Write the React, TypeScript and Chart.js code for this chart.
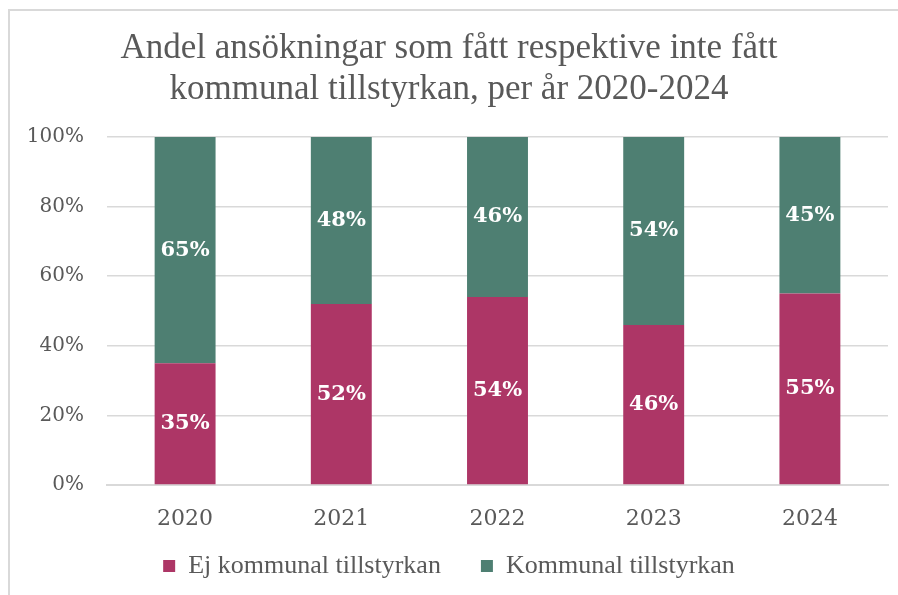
import React, { useEffect, useRef } from "react";
import { Chart, registerables } from "chart.js";

Chart.register(...registerables);

const titleLines = [
  "Andel ansökningar som fått respektive inte fått",
  "kommunal tillstyrkan, per år 2020-2024",
];
const years = ["2020", "2021", "2022", "2023", "2024"];
const ejKommunal = [35, 52, 54, 46, 55];
const kommunal = [65, 48, 46, 54, 45];
const seriesNames = ["Ej kommunal tillstyrkan", "Kommunal tillstyrkan"];
const yTicks = [0, 20, 40, 60, 80, 100];

const PINK = "#AD3666";
const GREEN = "#4E7F72";
const TEXT = "#595959";
const GRID = "#D9D9D9";

const frame = {
  id: "frame",
  beforeDraw(chart: any) {
    const ctx = chart.ctx;
    ctx.save();
    ctx.fillStyle = "#ffffff";
    ctx.fillRect(0, 0, chart.width, chart.height);
    ctx.strokeStyle = GRID;
    ctx.lineWidth = 2;
    ctx.beginPath();
    ctx.moveTo(9, chart.height);
    ctx.lineTo(9, 10);
    ctx.lineTo(chart.width, 10);
    ctx.stroke();
    ctx.restore();
  },
};

// keep the legend box compact in the layout, then place it where the reference has it
const legendFit = {
  id: "legendFit",
  beforeLayout(chart: any) {
    const lg = chart.legend;
    if (lg && !lg.__patched) {
      const orig = lg.fit.bind(lg);
      lg.fit = function () {
        orig();
        this.height = 55;
      };
      lg.__patched = true;
    }
  },
  afterLayout(chart: any) {
    const lg = chart.legend;
    if (lg) {
      lg.top = 513;
      lg.bottom = chart.height;
      lg.height = chart.height - 513;
    }
  },
};

const valueLabels = {
  id: "valueLabels",
  afterDatasetsDraw(chart: any) {
    const ctx = chart.ctx;
    ctx.save();
    ctx.fillStyle = "#ffffff";
    ctx.font = "bold 21px 'DejaVu Serif'";
    ctx.textAlign = "center";
    ctx.textBaseline = "middle";
    chart.data.datasets.forEach((ds: any, i: number) => {
      const meta = chart.getDatasetMeta(i);
      meta.data.forEach((el: any, j: number) => {
        const v = ds.data[j];
        const y = (el.y + el.base) / 2;
        ctx.fillText(v + "%", el.x, y);
      });
    });
    ctx.restore();
  },
};

export default function App() {
  const ref = useRef<HTMLCanvasElement | null>(null);
  useEffect(() => {
    if (!ref.current) return;
    const chart = new Chart(ref.current, {
      type: "bar",
      data: {
        labels: years,
        datasets: [
          {
            label: seriesNames[0],
            data: ejKommunal,
            backgroundColor: PINK,
            borderWidth: 0,
            barPercentage: 0.39,
            categoryPercentage: 1,
          },
          {
            label: seriesNames[1],
            data: kommunal,
            backgroundColor: GREEN,
            borderWidth: 0,
            barPercentage: 0.39,
            categoryPercentage: 1,
          },
        ],
      },
      options: {
        animation: false,
        responsive: false,
        maintainAspectRatio: false,
        layout: { padding: { left: 10, right: 10, top: 0, bottom: 0 } },
        plugins: {
          title: {
            display: true,
            text: titleLines,
            color: TEXT,
            font: { family: "'Liberation Serif'", size: 35, weight: "normal", lineHeight: 1.171 },
            padding: { top: 28, bottom: 27 },
          },
          legend: {
            position: "bottom",
            labels: {
              color: TEXT,
              font: { family: "'Liberation Serif'", size: 26 },
              boxWidth: 12,
              boxHeight: 12,
              padding: 40,
            },
          },
          tooltip: { enabled: false },
        },
        scales: {
          x: {
            stacked: true,
            grid: { display: false },
            border: { color: GRID, width: 2 },
            afterFit: (s: any) => {
              s.height = 55;
            },
            ticks: {
              color: TEXT,
              font: { family: "'DejaVu Serif'", size: 22 },
              padding: 13,
            },
          },
          y: {
            stacked: true,
            min: 0,
            max: 100,
            afterBuildTicks: (s: any) => {
              s.ticks = yTicks.map((v) => ({ value: v }));
            },
            afterFit: (s: any) => {
              s.width = 97;
            },
            grid: { color: GRID, lineWidth: 1.5, drawTicks: false },
            border: { display: false },
            ticks: {
              color: TEXT,
              font: { family: "'DejaVu Serif'", size: 20 },
              padding: 23,
              callback: (v: any) => v + "%",
            },
          },
        },
      },
      plugins: [frame, legendFit, valueLabels],
    });
    return () => chart.destroy();
  }, []);
  return (
    <div style={{ position: "fixed", left: 0, top: 0, width: 898, height: 595 }}>
      <canvas ref={ref} width={898} height={595} style={{ display: "block" }} />
    </div>
  );
}
